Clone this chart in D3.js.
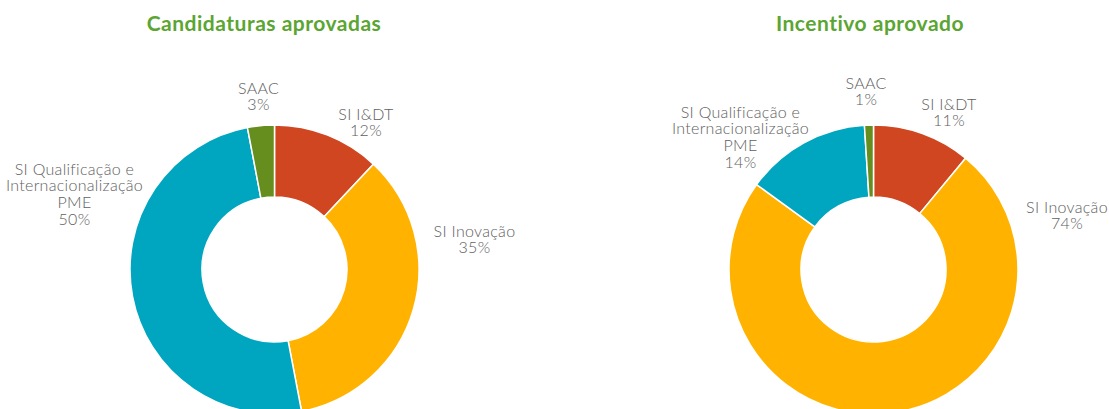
<!DOCTYPE html>
<html>
<head>
<meta charset="utf-8">
<script src="https://cdn.jsdelivr.net/npm/d3@7"></script>
<style>
  html, body { margin: 0; padding: 0; background: #fff; }
  svg { display: block; }
</style>
</head>
<body>
<svg id="chart" width="1109" height="409"></svg>
<script>
// Programme categories, in clockwise order from 12 o'clock
const categories = ["SI I&DT", "SI Inovação", "SI Qualificação e Internacionalização PME", "SAAC"];
// Share of approved applications (%)
const candidaturasValues = [12, 35, 50, 3];
// Share of approved incentive (%)
const incentivoValues = [11, 74, 14, 1];
const chartTitles = ["Candidaturas aprovadas", "Incentivo aprovado"];

const colors = ["#D04621", "#FFB300", "#00A6BF", "#668E1F"];

// label lines per category
const labelLines = [
  ["SI I&DT"],
  ["SI Inovação"],
  ["SI Qualificação e", "Internacionalização", "PME"],
  ["SAAC"]
];

const svg = d3.select("#chart");
const outerR = 144.5, innerR = 72.5;

const panels = [
  {
    title: chartTitles[0], values: candidaturasValues, cx: 274.5, cy: 269.5, tx: 264,
    // label anchor offsets from donut centre (first line baseline)
    labelPos: [[91.5, -150], [200, -33], [-200, -95], [-16, -176]]
  },
  {
    title: chartTitles[1], values: incentivoValues, cx: 873.5, cy: 269.5, tx: 870,
    labelPos: [[75.5, -160], [193.5, -57], [-133, -152], [-7.5, -181]]
  }
];

const pie = d3.pie().sort(null).value(d => d);
const arc = d3.arc().innerRadius(innerR).outerRadius(outerR);

panels.forEach(p => {
  svg.append("text")
    .attr("x", p.tx).attr("y", 31)
    .attr("text-anchor", "middle")
    .attr("font-family", "Lato, 'Open Sans', sans-serif")
    .attr("font-weight", 700)
    .attr("font-size", 21)
    .attr("letter-spacing", 0.5)
    .attr("fill", "#5BA532")
    .text(p.title);

  const g = svg.append("g").attr("transform", `translate(${p.cx},${p.cy})`);
  const arcs = pie(p.values);
  g.selectAll("path").data(arcs).join("path")
    .attr("d", arc)
    .attr("fill", (d, i) => colors[i])
    .attr("stroke", "#fff")
    .attr("stroke-width", 1.5);

  arcs.forEach((d, i) => {
    const lines = labelLines[i].concat([d.data + "%"]);
    const t = g.append("text")
      .attr("text-anchor", "middle")
      .attr("font-family", "Lato, 'Open Sans', sans-serif")
      .attr("font-weight", 300)
      .attr("font-size", 16)
      .attr("letter-spacing", 0.3)
      .attr("fill", "#606060");
    lines.forEach((ln, k) => {
      t.append("tspan")
        .attr("x", p.labelPos[i][0])
        .attr("y", p.labelPos[i][1] + k * 16.8)
        .text(ln);
    });
  });
});
</script>
</body>
</html>
